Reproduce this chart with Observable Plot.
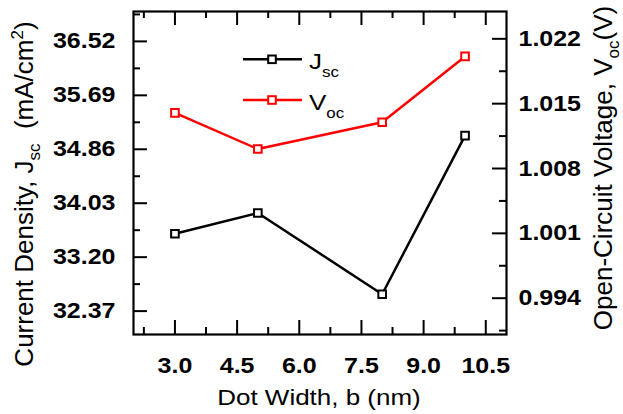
<!DOCTYPE html>
<html><head><meta charset="utf-8">
<script src="https://cdn.jsdelivr.net/npm/d3@7"></script>
<script src="https://cdn.jsdelivr.net/npm/@observablehq/plot@0.6"></script>
<style>
body{margin:0;background:#fff;}
#wrap{position:relative;width:623px;height:414px;}
svg text{font-family:"Liberation Sans",Arial,sans-serif;}
</style></head><body><div id="wrap"></div>
<script>
// ---- data ----
const dotWidth = [3, 5, 8, 10];
const jsc = [33.56, 33.88, 32.63, 35.07];
const voc = [1.0140, 1.0101, 1.0130, 1.0201];
const xTicks = [3.0, 4.5, 6.0, 7.5, 9.0, 10.5];
const xMinor = [2.25, 3.75, 5.25, 6.75, 8.25, 9.75];
const jTicks = [32.37, 33.20, 34.03, 34.86, 35.69, 36.52];
const jMinor = [32.785, 33.615, 34.445, 35.275, 36.105, 36.935];
const vTicks = [0.994, 1.001, 1.008, 1.015, 1.022];
const vMinor = [0.9905, 0.9975, 1.0045, 1.0115, 1.0185];

const xDomain = [2, 11];
const jDomain = [32.01, 36.98];
const vDomain = [0.99008, 1.02495];
const toJ = v => jDomain[0] + (v - vDomain[0]) * (jDomain[1] - jDomain[0]) / (vDomain[1] - vDomain[0]);
const fromJ = j => vDomain[0] + (j - jDomain[0]) * (vDomain[1] - vDomain[0]) / (jDomain[1] - jDomain[0]);

const rows = dotWidth.map((b, i) => ({b, jsc: jsc[i], vocJ: toJ(voc[i])}));

const W = 623, H = 414, mL = 133, mR = 117, mT = 11, mB = 80;
const pw = W - mL - mR, ph = H - mT - mB;
const major = 14, minor = 7;
const tickStyle = {stroke: "black", strokeWidth: 2};
const lab = {fontSize: 25, fontWeight: "bold", label: null, tickSize: 0, fontVariant: "normal"};

const chart = Plot.plot({
  width: W, height: H,
  marginLeft: mL, marginRight: mR, marginTop: mT, marginBottom: mB,
  x: {domain: xDomain},
  y: {domain: jDomain},
  style: {fontFamily: "Liberation Sans, Arial, sans-serif", background: "white", color: "black", overflow: "visible"},
  marks: [
    Plot.axisX(xTicks, {...lab, anchor: "bottom", tickPadding: 22.5, tickFormat: d => d.toFixed(1)}),
    Plot.axisY(jTicks, {...lab, anchor: "left", tickPadding: 18, tickFormat: d => d.toFixed(2)}),
    Plot.axisY(vTicks.map(toJ), {...lab, anchor: "right", tickPadding: 12, tickFormat: d => fromJ(d).toFixed(3)}),
    Plot.tickX(xTicks, {x: d => d, insetTop: ph - major, ...tickStyle}),
    Plot.tickX(xTicks, {x: d => d, insetBottom: ph - major, ...tickStyle}),
    Plot.tickX(xMinor, {x: d => d, insetTop: ph - minor, ...tickStyle}),
    Plot.tickX(xMinor, {x: d => d, insetBottom: ph - minor, ...tickStyle}),
    Plot.tickY(jTicks, {y: d => d, insetRight: pw - major, ...tickStyle}),
    Plot.tickY(jMinor, {y: d => d, insetRight: pw - minor, ...tickStyle}),
    Plot.tickY(vTicks.map(toJ), {y: d => d, insetLeft: pw - major, ...tickStyle}),
    Plot.tickY(vMinor.map(toJ), {y: d => d, insetLeft: pw - minor, ...tickStyle}),
    Plot.frame({stroke: "black", strokeWidth: 2.2}),
    Plot.line(rows, {x: "b", y: "jsc", stroke: "black", strokeWidth: 2.5}),
    Plot.line(rows, {x: "b", y: "vocJ", stroke: "red", strokeWidth: 2.5}),
    Plot.dot(rows, {x: "b", y: "jsc", symbol: "square", r: 4.3, fill: "white", stroke: "black", strokeWidth: 2}),
    Plot.dot(rows, {x: "b", y: "vocJ", symbol: "square", r: 4.3, fill: "white", stroke: "red", strokeWidth: 2})
  ]
});

const svg = chart.tagName.toLowerCase() === "svg" ? chart : chart.querySelector("svg");
// squash tick-label text vertically to match the reference's font proportions
svg.querySelectorAll("text").forEach(t => {
  const tr = t.getAttribute("transform") || "";
  t.setAttribute("transform", tr + " scale(1,0.88)");
});

const NS = "http://www.w3.org/2000/svg";
function el(name, attrs, parent) {
  const e = document.createElementNS(NS, name);
  for (const k in attrs) e.setAttribute(k, attrs[k]);
  (parent || svg).appendChild(e);
  return e;
}
function richText(parts, attrs) {
  const t = el("text", attrs);
  for (const p of parts) {
    const s = el("tspan", p.a || {}, t);
    s.textContent = p.t;
  }
  return t;
}
const F = 26, S = 17;
// axis titles
richText([{t: "Dot Width, b (nm)"}],
  {transform: "translate(319,405) scale(1,0.88)", "text-anchor": "middle", "font-size": F, fill: "black"});
richText([
  {t: "Current Density, J"},
  {t: "sc", a: {"font-size": S, dy: 7}},
  {t: "\u00a0\u00a0(mA/cm", a: {dy: -7}},
  {t: "2", a: {"font-size": S, dy: -10}},
  {t: ")", a: {dy: 10}}
], {transform: "translate(33,194) rotate(-90)", "text-anchor": "middle", "font-size": F, fill: "black"});
richText([
  {t: "Open-Circuit Voltage, V"},
  {t: "oc", a: {"font-size": S, dy: 7}},
  {t: "(V)", a: {dy: -7}}
], {transform: "translate(612,168) rotate(-90)", "text-anchor": "middle", "font-size": F, fill: "black"});

// legend
const legend = [{name: "J", sub: "sc", color: "black", y: 59.3}, {name: "V", sub: "oc", color: "red", y: 100}];
for (const L of legend) {
  el("line", {x1: 243, x2: 302, y1: L.y, y2: L.y, stroke: L.color, "stroke-width": 2.5});
  el("rect", {x: 272 - 3.8, y: L.y - 3.8, width: 7.6, height: 7.6, fill: "white", stroke: L.color, "stroke-width": 2});
  richText([{t: L.name}, {t: L.sub, a: {"font-size": S, dy: 9}}],
    {transform: `translate(309,${L.y + 10}) scale(1,0.88)`, "text-anchor": "start", "font-size": F, fill: "black"});
}

document.getElementById("wrap").appendChild(chart);
</script></body></html>
